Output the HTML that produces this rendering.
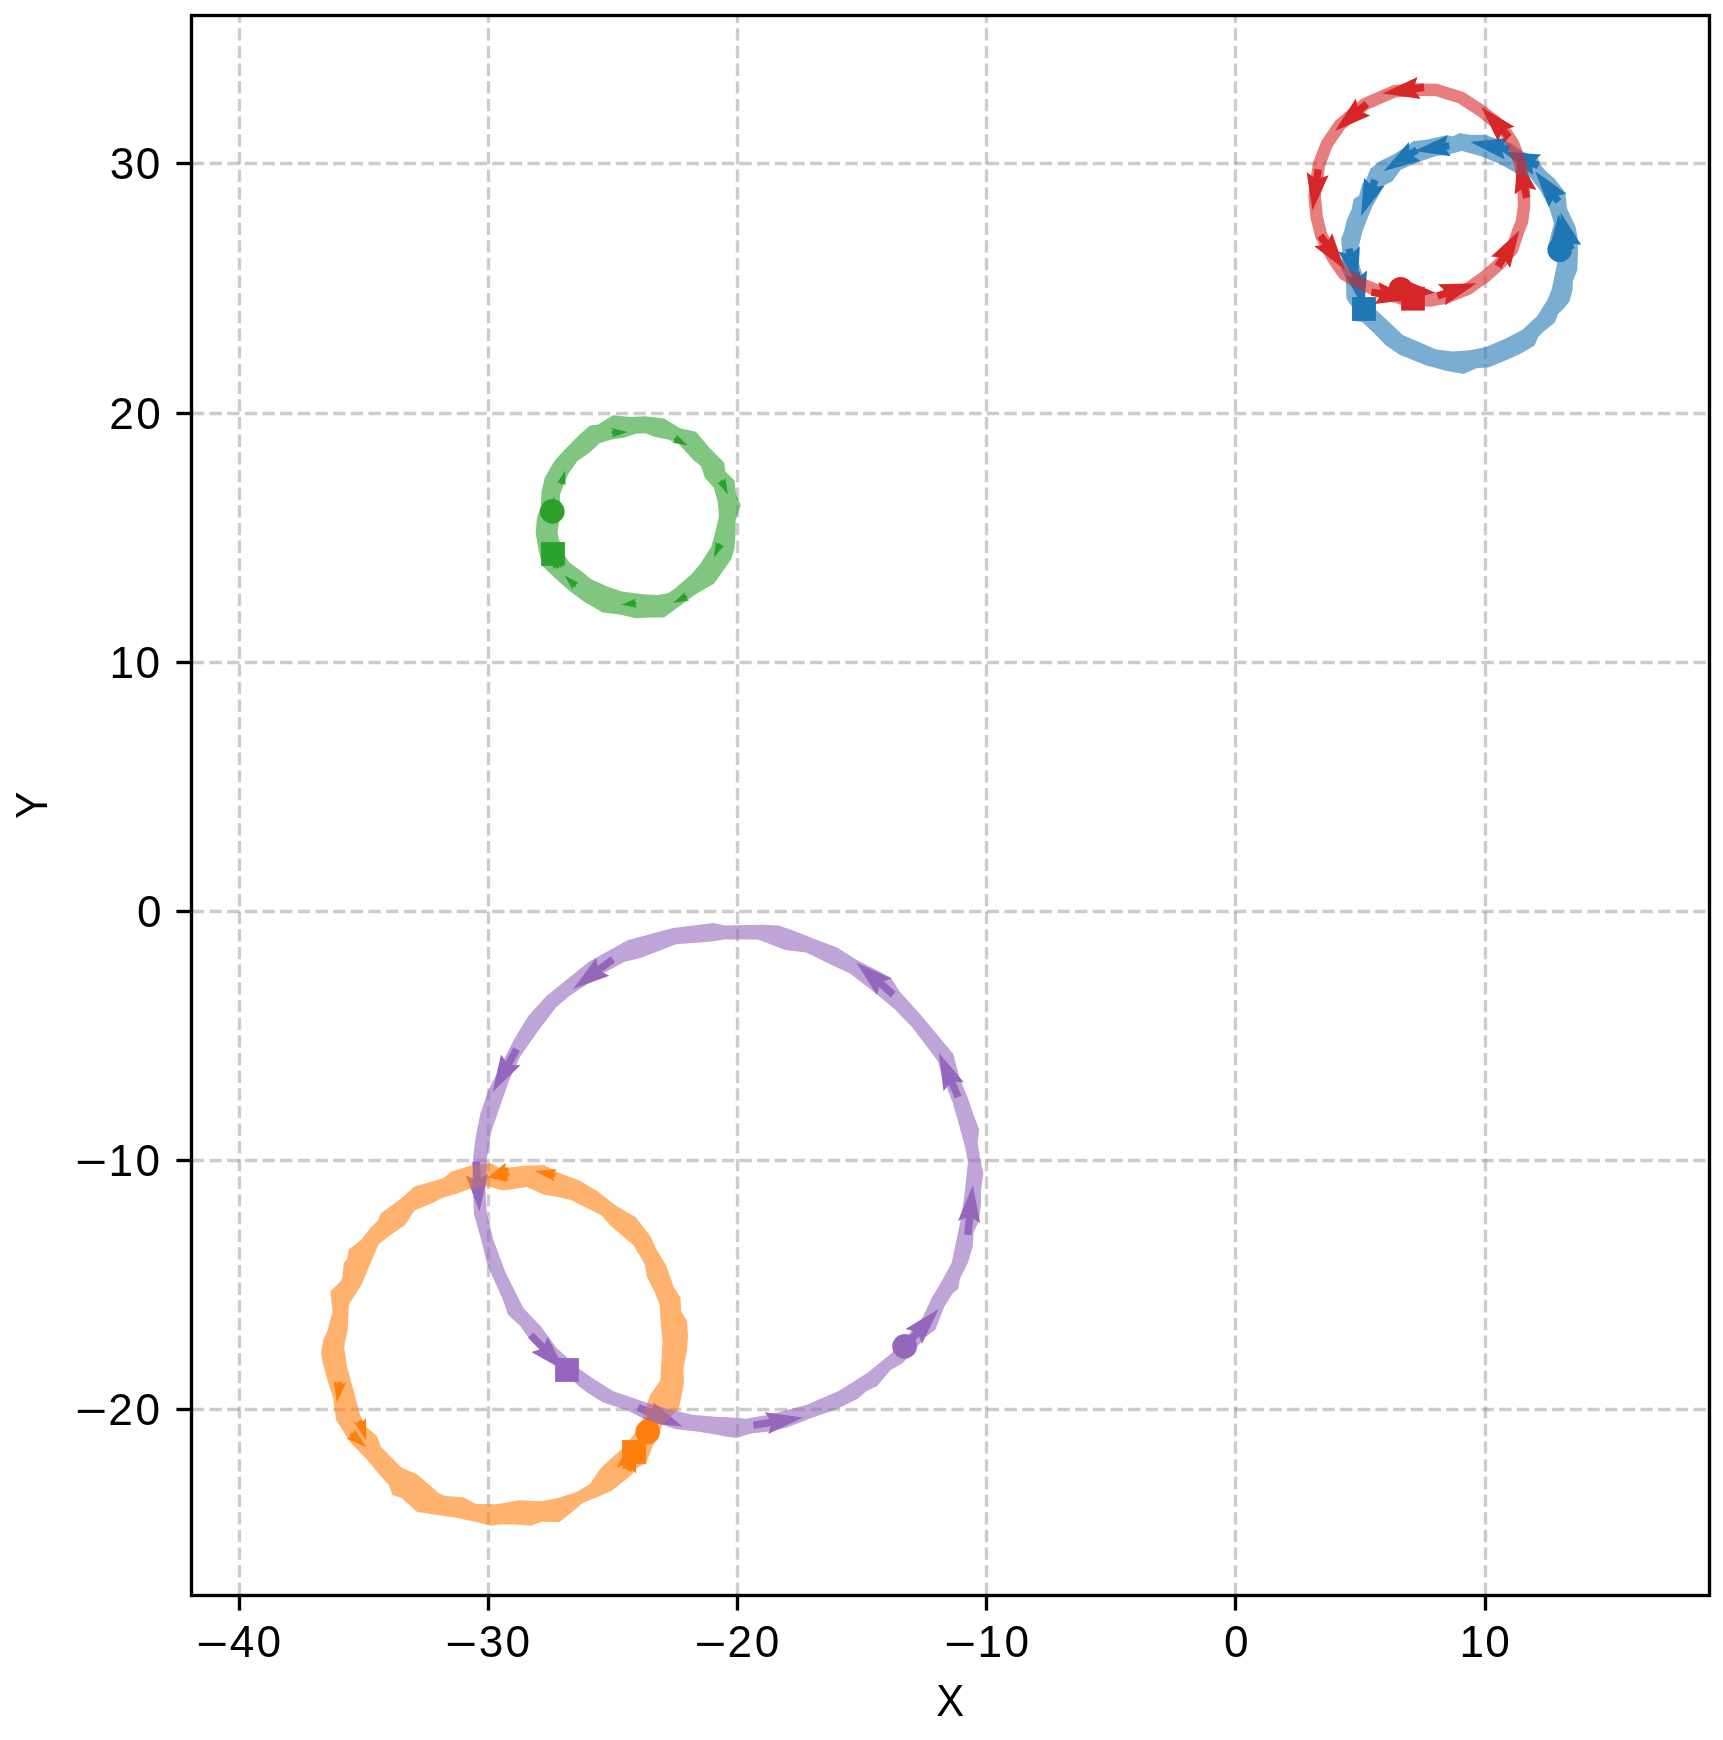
<!DOCTYPE html>
<html lang="en"><head><meta charset="utf-8"><title>Trajectories</title>
<style>html,body{margin:0;padding:0;background:#fff}body{width:1723px;height:1740px;overflow:hidden}svg{display:block;will-change:transform}text{font-family:"Liberation Sans",sans-serif;fill:#000}</style>
</head><body>
<svg width="1723" height="1740" viewBox="0 0 1723 1740">
<rect x="0" y="0" width="1723" height="1740" fill="#ffffff"/>
<defs><clipPath id="ax"><rect x="191.50" y="15.50" width="1518.00" height="1580.00"/></clipPath></defs>
<g clip-path="url(#ax)">
<g fill="#1f77b4" stroke="none">
<polygon points="1563.5,249.9 1563.4,246.2 1570.8,249.6 1558.5,213.8 1549.0,250.4 1556.1,246.5 1556.3,250.1"/>
<polygon points="1574.6,248.5 1573.2,243.5 1581.3,245.0 1560.6,212.4 1559.9,251.0 1566.0,245.5 1567.4,250.5"/>
<polygon points="1561.4,199.2 1558.5,195.4 1566.6,193.8 1535.2,171.3 1549.0,207.4 1552.6,199.9 1555.6,203.8"/>
<polygon points="1539.9,162.1 1535.0,160.2 1541.2,154.6 1502.7,151.4 1533.1,175.3 1532.3,167.0 1537.1,168.9"/>
<polygon points="1509.7,145.4 1503.7,144.3 1508.7,137.7 1470.3,142.0 1504.7,159.5 1502.4,151.6 1508.3,152.6"/>
<polygon points="1448.8,142.2 1445.3,142.7 1447.7,135.2 1414.3,150.9 1450.9,156.2 1446.3,149.7 1449.8,149.2"/>
<polygon points="1415.0,146.9 1409.6,150.3 1408.8,142.1 1383.5,171.3 1420.7,160.8 1413.6,156.6 1419.0,153.1"/>
<polygon points="1371.5,178.7 1369.6,183.8 1364.0,177.7 1361.0,216.2 1384.7,185.7 1376.5,186.5 1378.5,181.3"/>
<polygon points="1345.4,249.5 1346.3,253.4 1338.3,251.5 1357.5,285.0 1359.9,246.4 1353.5,251.7 1352.6,247.9"/>
<polygon points="1352.4,272.8 1353.3,277.2 1345.3,275.2 1364.0,309.0 1367.0,270.5 1360.6,275.7 1359.6,271.2"/>
</g>
<g fill="#ff7f0e" stroke="none">
<polygon points="650.5,1431.8 651.2,1429.0 656.0,1433.3 655.0,1403.3 639.4,1428.9 645.7,1427.6 644.9,1430.4"/>
<polygon points="555.9,1173.0 553.8,1172.6 556.7,1168.9 534.8,1171.1 554.3,1181.3 553.0,1176.8 555.1,1177.2"/>
<polygon points="507.3,1166.9 505.3,1167.8 505.6,1162.8 487.5,1177.5 510.8,1175.2 507.0,1171.9 509.1,1171.1"/>
<polygon points="508.2,1172.4 506.1,1172.7 507.6,1168.2 487.5,1177.5 509.4,1180.8 506.7,1176.9 508.8,1176.6"/>
<polygon points="506.4,1174.7 504.6,1174.7 506.4,1171.0 488.0,1177.0 506.6,1182.0 504.7,1178.4 506.6,1178.3"/>
<polygon points="337.8,1381.3 337.5,1383.4 333.6,1380.7 336.9,1402.7 346.2,1382.5 341.7,1384.0 342.0,1381.9"/>
<polygon points="357.9,1420.7 358.5,1422.8 353.8,1422.0 366.3,1440.4 366.0,1418.2 362.6,1421.5 361.9,1419.5"/>
<polygon points="349.2,1435.4 350.8,1436.8 346.5,1438.6 366.6,1447.4 354.7,1429.0 353.6,1433.6 352.0,1432.2"/>
<polygon points="628.5,1469.8 629.2,1466.9 634.4,1471.1 631.9,1439.8 616.8,1467.3 623.3,1465.6 622.7,1468.6"/>
<polygon points="631.3,1471.8 632.1,1469.5 635.9,1473.4 637.0,1448.0 622.1,1468.6 627.5,1467.9 626.7,1470.2"/>
</g>
<g fill="#2ca02c" stroke="none">
<polygon points="553.8,511.6 554.0,510.1 556.8,511.9 554.0,496.3 547.8,510.9 551.0,509.7 550.8,511.2"/>
<polygon points="562.7,484.8 563.1,483.4 565.5,485.5 565.1,470.4 557.1,483.3 560.3,482.6 559.9,484.0"/>
<polygon points="611.8,434.4 613.4,434.3 611.9,437.6 627.7,432.1 611.5,428.0 613.2,431.1 611.6,431.2"/>
<polygon points="673.6,439.8 674.9,440.6 672.2,442.5 687.7,445.6 676.4,434.5 676.4,437.9 675.0,437.2"/>
<polygon points="719.9,481.0 720.5,482.4 717.1,482.3 727.9,494.4 725.5,478.3 723.4,481.1 722.7,479.6"/>
<polygon points="718.6,542.9 718.0,544.3 715.8,541.7 713.9,557.6 724.2,545.3 720.8,545.5 721.4,544.1"/>
<polygon points="686.3,594.9 684.9,595.6 685.0,592.1 673.0,602.9 689.0,600.5 686.3,598.4 687.7,597.7"/>
<polygon points="636.0,601.7 634.6,601.9 635.7,598.7 621.3,604.8 636.7,607.7 634.9,604.9 636.4,604.7"/>
<polygon points="576.7,585.2 575.6,584.1 578.8,583.0 564.7,575.5 572.4,589.6 573.4,586.3 574.5,587.4"/>
<polygon points="559.0,568.2 558.8,566.7 562.1,567.8 555.5,553.1 552.9,569.0 555.8,567.1 556.0,568.6"/>
</g>
<g fill="#d62728" stroke="none">
<polygon points="1400.3,292.8 1403.9,293.1 1399.5,299.9 1436.3,293.1 1401.9,278.5 1404.7,286.0 1401.1,285.6"/>
<polygon points="1438.7,299.5 1446.1,297.1 1444.9,305.3 1476.6,283.2 1438.0,284.2 1443.8,290.0 1436.3,292.5"/>
<polygon points="1501.2,268.4 1505.6,260.9 1510.1,267.9 1519.4,230.4 1491.0,256.6 1499.2,257.2 1494.8,264.6"/>
<polygon points="1530.3,197.1 1528.4,187.9 1536.4,190.0 1517.8,156.1 1514.6,194.6 1521.1,189.4 1523.1,198.7"/>
<polygon points="1511.7,134.8 1506.5,129.1 1514.5,126.8 1481.3,107.0 1498.1,141.8 1501.0,134.1 1506.3,139.8"/>
<polygon points="1423.7,83.5 1414.9,84.8 1417.5,77.0 1382.5,93.4 1420.7,98.9 1416.0,92.2 1424.7,90.9"/>
<polygon points="1364.4,100.9 1357.8,106.5 1355.8,98.5 1334.9,131.0 1370.2,115.4 1362.6,112.2 1369.2,106.5"/>
<polygon points="1314.5,168.7 1313.4,176.9 1306.6,172.2 1312.5,210.4 1328.6,175.3 1320.7,177.9 1321.9,169.7"/>
<polygon points="1317.3,237.9 1322.4,244.9 1314.2,246.2 1344.9,269.7 1332.2,233.2 1328.4,240.6 1323.3,233.5"/>
<polygon points="1370.9,295.7 1379.5,297.2 1374.5,303.9 1412.9,299.3 1378.3,282.0 1380.7,289.9 1372.1,288.5"/>
</g>
<g fill="#9467bd" stroke="none">
<polygon points="907.3,1348.9 919.0,1336.2 921.9,1343.9 938.7,1309.1 905.5,1328.9 913.5,1331.2 901.9,1343.9"/>
<polygon points="971.6,1235.2 973.2,1218.6 980.2,1223.0 972.8,1185.1 958.1,1220.8 965.9,1217.9 964.2,1234.4"/>
<polygon points="961.6,1095.5 955.5,1081.8 963.8,1082.2 938.7,1052.8 943.5,1091.1 948.8,1084.8 954.8,1098.5"/>
<polygon points="895.6,991.8 883.8,981.5 891.5,978.4 856.3,962.4 876.9,995.1 879.0,987.1 890.8,997.4"/>
<polygon points="610.7,956.2 597.6,966.0 596.1,957.9 573.1,988.9 609.4,975.7 602.0,971.9 615.1,962.2"/>
<polygon points="513.5,1047.3 505.7,1061.2 501.0,1054.4 492.6,1092.1 520.4,1065.3 512.1,1064.9 519.9,1050.9"/>
<polygon points="472.3,1161.9 473.5,1178.5 465.8,1175.4 479.5,1211.5 488.0,1173.8 480.9,1178.0 479.7,1161.3"/>
<polygon points="528.1,1337.7 539.4,1349.4 531.4,1351.9 565.0,1371.0 547.5,1336.6 544.7,1344.3 533.5,1332.5"/>
<polygon points="636.6,1410.9 650.8,1417.0 644.4,1422.3 682.8,1426.8 653.2,1401.9 653.7,1410.2 639.6,1404.1"/>
<polygon points="754.0,1428.9 770.7,1426.2 768.2,1434.1 803.0,1417.4 764.7,1412.2 769.5,1418.9 752.8,1421.5"/>
</g>
<g stroke="#808080" stroke-width="3.333" stroke-dasharray="12.333 5.333" stroke-opacity="0.4" fill="none">
<line x1="239.50" y1="1595.20" x2="239.50" y2="15.50"/>
<line x1="488.50" y1="1595.20" x2="488.50" y2="15.50"/>
<line x1="737.50" y1="1595.20" x2="737.50" y2="15.50"/>
<line x1="986.50" y1="1595.20" x2="986.50" y2="15.50"/>
<line x1="1235.50" y1="1595.20" x2="1235.50" y2="15.50"/>
<line x1="1485.50" y1="1595.20" x2="1485.50" y2="15.50"/>
<line x1="191.80" y1="1409.50" x2="1709.50" y2="1409.50"/>
<line x1="191.80" y1="1160.50" x2="1709.50" y2="1160.50"/>
<line x1="191.80" y1="911.50" x2="1709.50" y2="911.50"/>
<line x1="191.80" y1="662.50" x2="1709.50" y2="662.50"/>
<line x1="191.80" y1="413.50" x2="1709.50" y2="413.50"/>
<line x1="191.80" y1="163.50" x2="1709.50" y2="163.50"/>
</g>
<path d="M1577.9 240.0 L1575.8 227.2 L1566.9 208.3 L1565.4 192.7 L1554.9 179.1 L1545.5 170.7 L1540.3 164.5 L1538.2 158.2 L1523.6 151.9 L1511.0 143.6 L1498.5 139.4 L1484.9 134.7 L1470.3 134.7 L1459.8 133.1 L1453.0 136.3 L1446.7 135.2 L1424.8 139.9 L1413.3 141.0 L1409.6 144.1 L1394.5 154.0 L1379.8 161.3 L1370.4 168.7 L1366.3 179.1 L1362.1 184.3 L1359.0 195.8 L1353.7 198.9 L1351.6 209.4 L1346.9 219.8 L1344.3 230.4 L1341.2 238.8 L1342.2 251.3 L1341.2 269.1 L1345.9 278.5 L1346.4 298.4 L1349.5 303.6 L1352.2 306.7 L1352.2 320.8 L1362.1 321.9 L1373.6 332.8 L1386.1 345.4 L1399.7 354.8 L1425.8 365.2 L1444.6 370.4 L1463.5 374.1 L1476.6 368.3 L1489.1 367.3 L1509.0 358.9 L1522.5 352.7 L1534.5 345.4 L1538.2 337.0 L1543.4 331.8 L1554.9 322.4 L1558.1 314.0 L1565.4 306.7 L1569.5 301.5 L1572.7 289.0 L1572.7 281.6 L1577.4 270.1 L1577.9 251.3 Z M1553.9 223.0 L1548.7 206.3 L1540.3 190.6 L1529.8 177.0 L1520.4 176.0 L1513.1 171.3 L1498.5 163.4 L1481.8 156.6 L1464.0 151.4 L1461.3 150.9 L1450.9 154.0 L1436.3 156.1 L1418.5 161.9 L1400.7 169.7 L1392.4 181.2 L1384.0 185.4 L1377.8 196.9 L1372.5 206.3 L1367.3 218.8 L1362.1 232.5 L1359.0 246.1 L1358.4 261.8 L1361.0 270.1 L1365.2 282.7 L1365.2 297.3 L1375.9 309.8 L1402.8 334.9 L1436.3 349.5 L1453.0 351.6 L1471.3 350.1 L1486.0 346.9 L1504.8 339.1 L1522.5 329.7 L1537.2 316.1 L1547.6 299.4 L1551.8 289.0 L1554.9 274.3 L1557.5 261.8 L1550.7 256.6 L1547.6 249.3 L1548.7 244.0 Z" fill="#1f77b4" fill-opacity="0.6" fill-rule="evenodd" stroke="none"/>
<circle cx="1559.7" cy="249.8" r="12.30" fill="#1f77b4"/>
<rect x="1352.1" y="297.1" width="23.8" height="23.8" fill="#1f77b4"/>
<path d="M491.1 1163.3 L472.5 1165.1 L451.6 1171.5 L443.5 1177.9 L436.5 1180.2 L414.5 1186.6 L399.4 1199.9 L380.8 1213.3 L377.9 1220.8 L370.4 1227.8 L361.1 1240.0 L348.9 1249.2 L347.1 1259.1 L343.7 1263.2 L342.5 1276.5 L340.8 1281.2 L330.3 1291.6 L332.6 1311.3 L327.4 1331.1 L323.3 1340.0 L321.0 1352.8 L322.8 1363.2 L328.6 1384.1 L333.2 1398.0 L336.1 1420.1 L350.0 1442.1 L366.9 1459.6 L378.5 1473.5 L388.9 1485.1 L392.4 1495.0 L401.7 1497.9 L416.8 1511.8 L435.4 1514.7 L455.1 1517.6 L477.2 1522.2 L491.1 1525.7 L500.0 1524.6 L515.1 1524.6 L531.3 1525.7 L541.8 1521.7 L559.2 1522.2 L569.6 1514.1 L583.6 1502.5 L595.2 1497.9 L611.4 1490.9 L631.2 1475.2 L637.0 1467.7 L646.3 1463.0 L654.4 1442.1 L661.9 1425.9 L671.8 1415.4 L678.8 1408.5 L681.1 1398.0 L684.0 1382.9 L683.4 1367.9 L686.9 1351.6 L688.0 1336.9 L686.9 1320.6 L681.1 1311.3 L680.5 1297.4 L674.1 1288.1 L666.0 1264.9 L656.1 1248.7 L650.9 1237.1 L635.8 1217.3 L616.1 1205.7 L596.3 1190.6 L578.9 1180.2 L558.0 1172.6 L544.1 1164.9 L523.2 1165.7 L509.3 1167.4 L500.0 1168.0 Z M502.7 1190.6 L486.4 1186.0 L471.3 1188.3 L457.4 1193.5 L441.2 1198.2 L435.4 1201.7 L414.5 1210.4 L405.2 1224.9 L390.1 1235.3 L378.5 1244.6 L372.7 1258.0 L361.7 1284.6 L348.9 1304.4 L347.7 1331.1 L345.4 1340.0 L344.2 1347.5 L347.1 1366.7 L354.1 1392.2 L359.9 1414.3 L365.1 1425.9 L376.7 1435.8 L380.8 1446.8 L401.7 1467.7 L417.4 1474.6 L438.8 1493.2 L445.2 1496.1 L463.2 1497.3 L476.0 1503.9 L495.7 1504.2 L500.0 1503.7 L518.6 1500.2 L541.8 1501.3 L558.0 1497.9 L576.6 1492.1 L590.0 1483.9 L601.0 1467.7 L613.8 1456.1 L621.9 1449.1 L635.2 1432.9 L642.2 1420.1 L646.8 1405.0 L649.7 1395.7 L660.2 1380.6 L661.3 1363.2 L662.5 1341.5 L660.8 1324.1 L659.6 1304.4 L654.4 1291.6 L646.8 1276.5 L644.5 1263.8 L633.5 1245.2 L611.4 1226.6 L601.0 1215.0 L570.8 1199.9 L555.7 1196.4 L544.1 1194.7 L526.7 1187.1 L503.5 1190.6 Z" fill="#ff7f0e" fill-opacity="0.6" fill-rule="evenodd" stroke="none"/>
<circle cx="647.7" cy="1432.0" r="12.30" fill="#ff7f0e"/>
<rect x="622.1" y="1440.1" width="23.8" height="23.8" fill="#ff7f0e"/>
<path d="M590.0 425.4 L597.7 424.8 L613.0 415.2 L629.6 417.1 L644.9 416.2 L664.1 418.4 L680.7 428.6 L696.0 431.8 L708.8 447.1 L724.1 462.5 L725.4 471.4 L734.3 480.3 L736.2 494.4 L740.7 505.2 L735.6 519.9 L735.6 532.7 L734.3 549.3 L731.1 559.5 L713.9 583.8 L696.0 594.0 L687.0 600.4 L664.1 617.6 L650.0 617.6 L636.0 618.2 L619.4 614.4 L602.8 612.5 L584.9 602.3 L568.3 590.1 L555.5 578.6 L542.8 566.5 L538.9 551.8 L535.7 532.7 L537.0 517.4 L540.9 505.9 L541.5 491.8 L544.7 477.8 L554.3 461.2 L564.5 449.7 L578.5 435.6 Z M599.6 443.3 L611.7 439.5 L624.5 437.6 L636.0 433.7 L644.9 433.3 L655.1 436.9 L667.9 439.5 L678.1 443.3 L693.4 459.9 L701.1 466.3 L704.9 477.8 L713.9 488.0 L717.7 502.0 L719.0 516.1 L715.1 532.7 L711.3 546.7 L699.8 564.6 L690.9 574.8 L674.3 588.9 L667.9 593.3 L657.7 595.0 L644.9 594.6 L621.9 591.4 L606.6 586.3 L591.3 579.3 L581.1 571.0 L569.6 562.7 L564.9 555.7 L560.6 542.9 L558.7 539.1 L557.5 531.4 L559.4 519.9 L560.0 494.4 L563.8 484.2 L568.3 473.9 L577.2 461.2 L590.0 452.2 Z" fill="#2ca02c" fill-opacity="0.6" fill-rule="evenodd" stroke="none"/>
<circle cx="552.3" cy="511.4" r="12.30" fill="#2ca02c"/>
<rect x="541.1" y="542.1" width="23.8" height="23.8" fill="#2ca02c"/>
<path d="M1436.3 89.9 L1415.0 89.5 L1394.5 91.3 L1365.2 103.9 L1340.1 124.8 L1327.1 143.6 L1319.0 164.5 L1314.6 195.8 L1316.6 216.7 L1321.3 235.7 L1333.9 259.7 L1344.3 274.3 L1363.1 284.8 L1384.0 293.1 L1404.9 299.4 L1431.0 300.4 L1446.7 297.3 L1467.6 289.0 L1486.0 275.9 L1498.5 264.9 L1512.1 249.3 L1518.4 230.4 L1522.0 221.9 L1524.1 206.3 L1523.6 185.4 L1520.4 164.5 L1513.1 143.6 L1502.7 127.9 L1481.8 111.2 L1460.9 97.6 Z" fill="none" stroke="#d62728" stroke-opacity="0.6" stroke-width="12.50" stroke-linejoin="round" stroke-linecap="butt"/>
<circle cx="1400.7" cy="289.2" r="12.30" fill="#d62728"/>
<rect x="1401.1" y="286.8" width="23.8" height="23.8" fill="#d62728"/>
<path d="M713.6 923.1 L673.0 928.0 L627.5 940.2 L588.5 962.1 L546.2 996.2 L528.4 1015.7 L513.7 1040.1 L488.6 1089.7 L480.4 1113.2 L475.6 1137.6 L473.1 1158.7 L472.3 1183.1 L473.1 1188.0 L473.9 1214.0 L481.2 1240.0 L487.7 1266.0 L502.4 1298.5 L508.1 1314.7 L520.2 1326.1 L528.4 1337.5 L556.0 1363.5 L578.7 1386.2 L588.5 1393.6 L603.1 1402.5 L627.5 1410.6 L643.7 1418.7 L676.2 1429.3 L699.0 1431.7 L718.5 1435.0 L725.0 1436.6 L736.4 1437.9 L751.0 1433.4 L768.9 1431.4 L786.7 1427.7 L809.5 1418.7 L837.1 1409.0 L858.2 1398.4 L866.4 1391.1 L876.9 1386.2 L890.7 1370.0 L902.1 1363.5 L916.7 1347.2 L924.9 1337.5 L935.4 1329.4 L944.4 1306.6 L952.5 1293.6 L958.2 1288.7 L959.8 1279.0 L967.9 1262.7 L972.8 1246.5 L973.6 1231.9 L978.5 1222.1 L980.9 1205.9 L980.9 1191.2 L983.4 1173.4 L980.1 1158.7 L977.7 1142.5 L979.3 1129.5 L973.6 1114.9 L968.7 1100.2 L959.0 1075.9 L953.3 1053.9 L936.2 1033.6 L920.0 1014.1 L899.7 991.4 L890.7 977.6 L856.6 959.7 L837.1 947.5 L816.0 939.4 L793.2 930.4 L778.6 925.6 L762.4 924.7 L725.0 925.6 Z M708.7 941.8 L676.2 944.2 L640.5 958.1 L624.2 962.1 L603.1 973.5 L569.0 996.2 L556.0 1007.6 L539.7 1028.7 L520.2 1056.4 L508.9 1080.7 L499.9 1106.7 L491.0 1132.7 L486.9 1158.7 L486.1 1183.1 L485.3 1188.0 L486.9 1214.0 L493.4 1240.0 L505.6 1272.5 L523.5 1308.2 L541.4 1326.9 L556.0 1347.2 L578.7 1368.4 L595.0 1379.7 L612.9 1391.1 L643.7 1401.7 L668.1 1409.0 L692.5 1414.7 L718.5 1417.1 L725.0 1417.1 L746.1 1418.7 L768.9 1414.7 L806.2 1404.9 L838.7 1391.1 L868.0 1372.4 L890.7 1353.7 L895.6 1349.7 L922.4 1318.0 L932.2 1296.9 L941.1 1282.2 L951.7 1262.7 L955.7 1243.2 L960.6 1220.5 L963.9 1199.4 L966.3 1178.2 L967.9 1162.0 L965.5 1149.0 L959.0 1124.6 L952.5 1101.9 L942.7 1077.5 L937.9 1061.2 L928.1 1048.2 L911.9 1027.1 L895.6 1010.1 L876.1 993.8 L850.1 973.5 L830.6 964.6 L806.2 952.4 L785.1 949.9 L757.5 939.4 L725.0 939.4 Z" fill="#9467bd" fill-opacity="0.6" fill-rule="evenodd" stroke="none"/>
<circle cx="904.6" cy="1346.4" r="12.30" fill="#9467bd"/>
<rect x="555.1" y="1358.1" width="23.8" height="23.8" fill="#9467bd"/>
</g>
<rect x="191.50" y="15.50" width="1518.00" height="1580.00" fill="none" stroke="#000" stroke-width="3.333" stroke-linejoin="miter"/>
<g stroke="#000" stroke-width="3.333">
<line x1="239.50" y1="1595.50" x2="239.50" y2="1610.58"/>
<line x1="488.50" y1="1595.50" x2="488.50" y2="1610.58"/>
<line x1="737.50" y1="1595.50" x2="737.50" y2="1610.58"/>
<line x1="986.50" y1="1595.50" x2="986.50" y2="1610.58"/>
<line x1="1235.50" y1="1595.50" x2="1235.50" y2="1610.58"/>
<line x1="1485.50" y1="1595.50" x2="1485.50" y2="1610.58"/>
<line x1="176.42" y1="1409.50" x2="191.50" y2="1409.50"/>
<line x1="176.42" y1="1160.50" x2="191.50" y2="1160.50"/>
<line x1="176.42" y1="911.50" x2="191.50" y2="911.50"/>
<line x1="176.42" y1="662.50" x2="191.50" y2="662.50"/>
<line x1="176.42" y1="413.50" x2="191.50" y2="413.50"/>
<line x1="176.42" y1="163.50" x2="191.50" y2="163.50"/>
</g>
<text y="1657.30" font-size="44.15"><tspan x="196.31" dy="1.7" textLength="32.08" lengthAdjust="spacingAndGlyphs">−</tspan><tspan x="229.66" dy="-1.7">4</tspan><tspan x="256.58">0</tspan></text>
<text y="1657.30" font-size="44.15"><tspan x="445.31" dy="1.7" textLength="32.08" lengthAdjust="spacingAndGlyphs">−</tspan><tspan x="478.71" dy="-1.7">3</tspan><tspan x="505.58">0</tspan></text>
<text y="1657.30" font-size="44.15"><tspan x="694.51" dy="1.7" textLength="32.08" lengthAdjust="spacingAndGlyphs">−</tspan><tspan x="727.38" dy="-1.7">2</tspan><tspan x="754.78">0</tspan></text>
<text y="1657.30" font-size="44.15"><tspan x="944.21" dy="1.7" textLength="32.08" lengthAdjust="spacingAndGlyphs">−</tspan><tspan x="977.38" dy="-1.7">1</tspan><tspan x="1004.48">0</tspan></text>
<text y="1657.30" font-size="44.15"><tspan x="1223.98">0</tspan></text>
<text y="1657.30" font-size="44.15"><tspan x="1459.53">1</tspan><tspan x="1485.23">0</tspan></text>
<text y="1424.60" font-size="44.15"><tspan x="75.31" dy="1.7" textLength="32.08" lengthAdjust="spacingAndGlyphs">−</tspan><tspan x="108.18" dy="-1.7">2</tspan><tspan x="135.58">0</tspan></text>
<text y="1175.60" font-size="44.15"><tspan x="75.31" dy="1.7" textLength="32.08" lengthAdjust="spacingAndGlyphs">−</tspan><tspan x="108.48" dy="-1.7">1</tspan><tspan x="135.58">0</tspan></text>
<text y="926.60" font-size="44.15"><tspan x="137.03">0</tspan></text>
<text y="677.60" font-size="44.15"><tspan x="109.48">1</tspan><tspan x="135.43">0</tspan></text>
<text y="428.60" font-size="44.15"><tspan x="109.28">2</tspan><tspan x="136.23">0</tspan></text>
<text y="178.60" font-size="44.15"><tspan x="109.86">3</tspan><tspan x="135.73">0</tspan></text>
<text y="1715.70" font-size="44.15"><tspan x="936.18" textLength="27.90" lengthAdjust="spacingAndGlyphs">X</tspan></text>
<g transform="translate(46.9,805.3) rotate(-90)"><text y="0.00" font-size="44.15"><tspan x="-13.70" textLength="27.41" lengthAdjust="spacingAndGlyphs">Y</tspan></text></g>
</svg></body></html>
